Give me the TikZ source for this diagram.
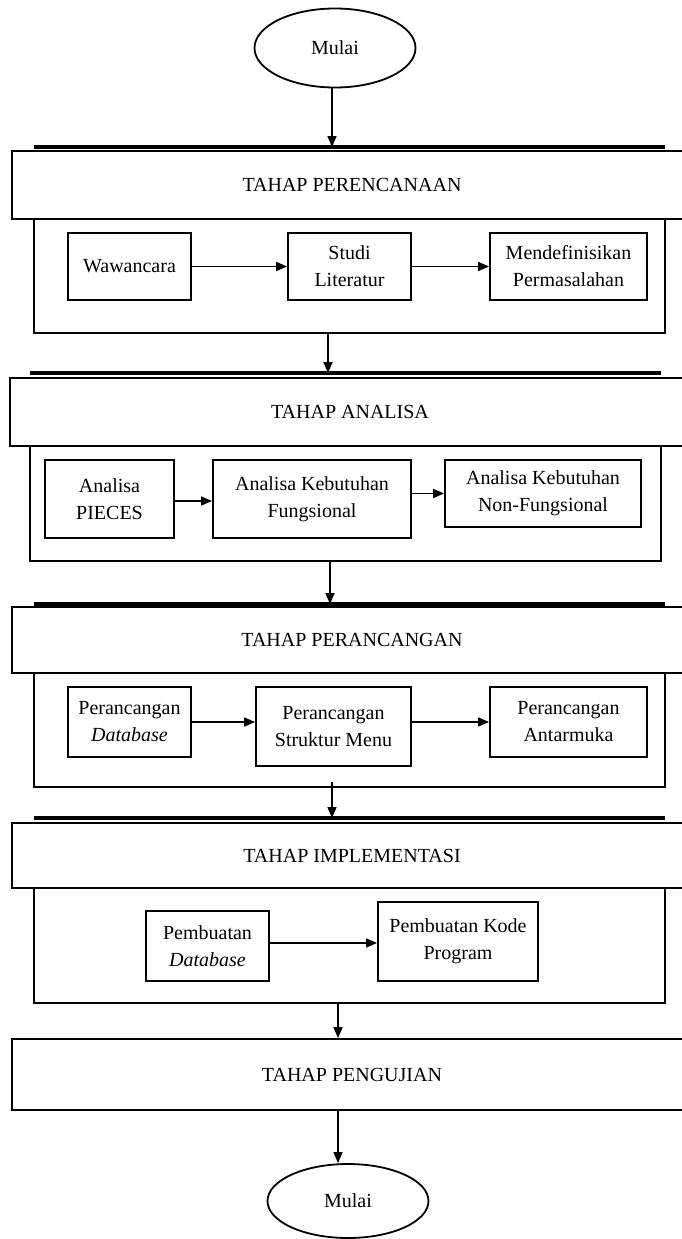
\documentclass[tikz,border=0pt]{standalone}
\usepackage{fontspec}
\setmainfont{Liberation Serif}
\usetikzlibrary{shapes.geometric,positioning,calc,arrows.meta}

\begin{document}
\begin{tikzpicture}[x=1pt,y=-1pt,
    every node/.style={font=\fontsize{20}{27}\selectfont, align=center, inner sep=2pt},
    terminal/.style={draw, ellipse, line width=1.8pt, minimum width=161pt, minimum height=79pt},
    stage/.style={draw, line width=1.8pt, minimum width=680pt},
    group/.style={draw, line width=1.8pt, minimum width=631pt},
    task/.style={draw, line width=1.8pt},
    topbar/.style={line width=4pt},
    flow/.style={line width=1.6pt, -{Triangle[length=11pt,width=9pt]}}]
    \useasboundingbox (0,0) rectangle (682,1239);
    \clip (0,0) rectangle (682,1239);

    % Start
    \node[terminal] (start) at (335,48) {Mulai};

    % Tahap perencanaan
    \coordinate (b1w) at (34,147); \coordinate (b1e) at (665,147);
    \node[stage, minimum height=68pt] (hdr1) at (352,185) {TAHAP PERENCANAAN};
    \node[group, minimum height=114pt] (con1) at (349.5,276) {};
    \node[task, minimum width=123pt, minimum height=67pt] (wwc) at (129.5,266.5) {Wawancara};
    \node[task, minimum width=123pt, minimum height=67pt] (lit) at (349.5,266.5) {Studi\\Literatur};
    \node[task, minimum width=157pt, minimum height=67pt] (msl) at (568.5,266.5) {Mendefinisikan\\Permasalahan};
    \draw[topbar] (b1w) -- (b1e);
    \draw[flow] (start.south -| 332,0) -- (332,147);
    \draw[flow] (wwc) -- (lit);
    \draw[flow] (lit) -- (msl);

    % Tahap analisa
    \coordinate (b2w) at (30,373); \coordinate (b2e) at (661,373);
    \node[stage, minimum height=68pt] (hdr2) at (350,412) {TAHAP ANALISA};
    \node[group, minimum height=115pt] (con2) at (345.5,503.5) {};
    \node[task, minimum width=129pt, minimum height=78pt] (pcs) at (109.5,499) {Analisa\\PIECES};
    \node[task, minimum width=198pt, minimum height=78pt] (kf) at (312,499) {Analisa Kebutuhan\\Fungsional};
    \node[task, minimum width=196pt, minimum height=67pt] (knf) at (543,493.5) {Analisa Kebutuhan\\Non-Fungsional};
    \draw[topbar] (b2w) -- (b2e);
    \draw[flow] (con1.south -| 328,0) -- (328,373);
    \draw[flow] ([yshift=-2pt]pcs.east) -- ([yshift=-2pt]pcs.east -| kf.west);
    \draw[flow] (kf.east |- knf) -- (knf);

    % Tahap perancangan
    \coordinate (b3w) at (34,604); \coordinate (b3e) at (665,604);
    \node[stage, minimum height=66pt] (hdr3) at (352,640) {TAHAP PERANCANGAN};
    \node[group, minimum height=114pt] (con3) at (349.5,730) {};
    \node[task, minimum width=123pt, minimum height=70pt] (pdb) at (129.5,722) {Perancangan\\\textit{Database}};
    \node[task, minimum width=155pt, minimum height=79pt] (psm) at (333.5,726.5) {Perancangan\\Struktur Menu};
    \node[task, minimum width=157pt, minimum height=70pt] (pam) at (568.5,722) {Perancangan\\Antarmuka};
    \draw[topbar] (b3w) -- (b3e);
    \draw[flow] (con2.south -| 330,0) -- (330,604);
    \draw[flow] (pdb) -- (pdb -| psm.west);
    \draw[flow] (psm.east |- pam) -- (pam);

    % Tahap implementasi
    \coordinate (b4w) at (34,818); \coordinate (b4e) at (665,818);
    \node[stage, minimum height=65pt] (hdr4) at (352,855.5) {TAHAP IMPLEMENTASI};
    \node[group, minimum height=115pt] (con4) at (349.5,945.5) {};
    \node[task, minimum width=123pt, minimum height=70pt] (pbd) at (207.5,946) {Pembuatan\\\textit{Database}};
    \node[task, minimum width=160pt, minimum height=79pt] (pkp) at (458,941.5) {Pembuatan Kode\\Program};
    \draw[topbar] (b4w) -- (b4e);
    \draw[flow] (332,782) -- (332,818);
    \draw[flow] ([yshift=3pt]pbd.east) -- ([yshift=3pt]pbd.east -| pkp.west);

    % Tahap pengujian
    \node[stage, minimum height=71pt] (hdr5) at (352,1074.5) {TAHAP PENGUJIAN};
    \draw[flow] (con4.south -| 338,0) -- (hdr5.north -| 338,0);

    % End
    \node[terminal, minimum height=74pt] (end) at (348,1201) {Mulai};
    \draw[flow] (hdr5.south -| 338,0) -- (end.north -| 338,0);
\end{tikzpicture}
\end{document}
